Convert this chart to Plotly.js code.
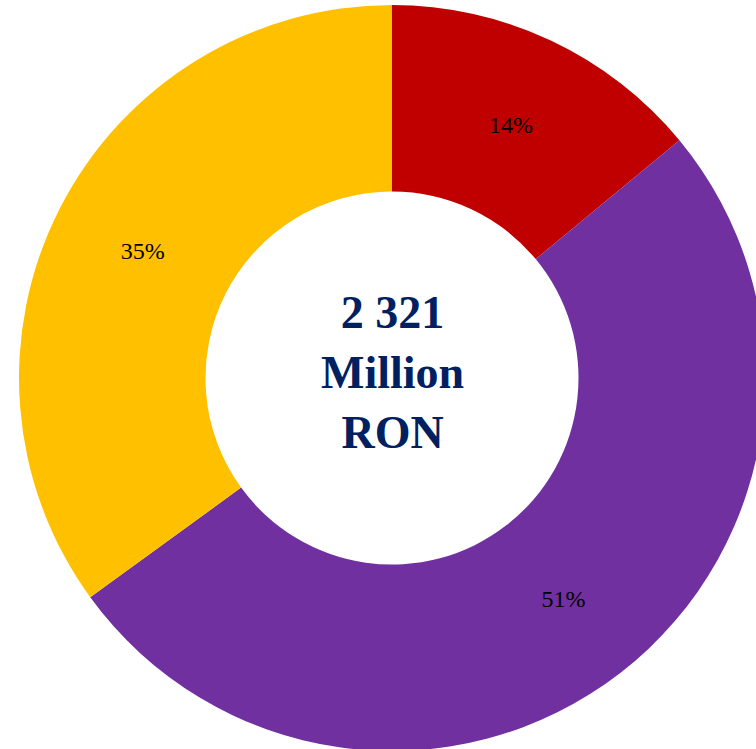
<!DOCTYPE html>
<html>
<head>
<meta charset="utf-8">
<script src="https://cdn.plot.ly/plotly-3.0.1.min.js"></script>
<style>
html, body { margin:0; padding:0; width:756px; height:749px; overflow:hidden; background:#fff; }
#chart { width:784px; height:751px; }
</style>
</head>
<body>
<div id="chart"></div>
<script>
const categories = ["Segment A", "Segment B", "Segment C"];
const values = [14, 51, 35];
const colors = ["#C00000", "#7030A0", "#FFC000"];
const centerText = "2 321<br>Million<br>RON";

Plotly.newPlot("chart", [{
  type: "pie",
  labels: categories,
  values: values,
  hole: 0.5,
  sort: false,
  direction: "clockwise",
  rotation: 0,
  marker: { colors: colors, line: { width: 0 } },
  textinfo: "percent",
  textposition: "inside",
  insidetextorientation: "horizontal",
  textfont: { family: "Liberation Serif, Times New Roman, serif", size: 24, color: "#000000" },
  hoverinfo: "none"
}], {
  width: 784, height: 751,
  margin: { l: 0, r: 0, t: 5, b: 0, pad: 0 },
  showlegend: false,
  paper_bgcolor: "#ffffff",
  annotations: [{
    text: "<b>" + centerText + "</b>",
    xref: "paper", yref: "paper", x: 0.5, y: 0.5,
    xanchor: "center", yanchor: "middle", yshift: 6,
    showarrow: false,
    font: { family: "Liberation Serif, Times New Roman, serif", size: 46, color: "#002060" }
  }]
}, { displayModeBar: false, staticPlot: true });
</script>
</body>
</html>
